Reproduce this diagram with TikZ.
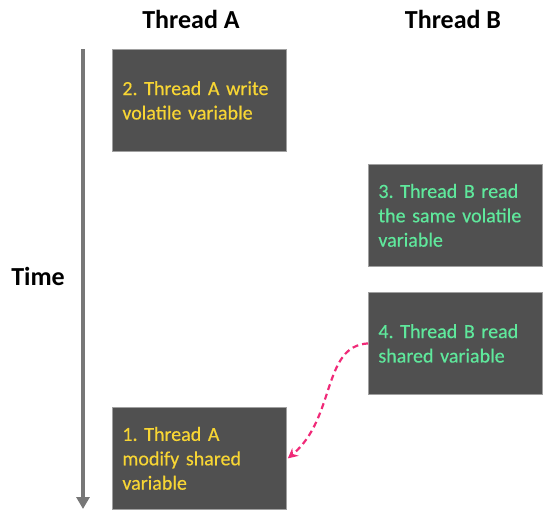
\documentclass[tikz,border=0pt]{standalone}
\usepackage{fontspec}
\setmainfont{Carlito}
\newfontfamily\boxfont[FakeBold=0.4]{Carlito}
\usetikzlibrary{arrows.meta}
\definecolor{boxfill}{HTML}{505050}
\definecolor{boxline}{HTML}{A0A0A0}
\definecolor{ayellow}{HTML}{F7D534}
\definecolor{bgreen}{HTML}{5FE89C}
\definecolor{timegray}{HTML}{777777}
\definecolor{linkpink}{HTML}{F02A78}
\tikzset{
  stepbox/.style={draw=boxline, line width=0.8pt, fill=boxfill, minimum width=174pt, minimum height=102pt,
    text width=154pt, inner xsep=10pt, align=left, font=\boxfont\fontsize{20}{24.4}\selectfont, anchor=north west},
  texta/.style={text=ayellow},
  textb/.style={text=bgreen},
  title/.style={font=\fontsize{26}{30}\selectfont\bfseries}
}
\frenchspacing
\begin{document}
\frenchspacing
\begin{tikzpicture}[x=1pt,y=-1pt]
\useasboundingbox (0,0) rectangle (554,525);
\node[title] (ta) at (191,19) {Thread A};
\node[title] (tb) at (453,19) {Thread B};
\node[title] (time) at (38,276) {Time};
\coordinate (tstart) at (83,49);
\coordinate (tend) at (83,509);
\draw[timegray, line width=4pt, -{Triangle[width=13pt,length=12pt]}] (tstart) -- (tend);
\node[stepbox, texta] (s2) at (112,49) {2. Thread A write\\volatile variable};
\node[stepbox, textb] (s3) at (368,164) {3. Thread B read\\the same volatile\\variable};
\node[stepbox, textb] (s4) at (368,292) {4. Thread B read\\shared variable};
\node[stepbox, texta] (s1) at (112,407) {1. Thread A\\modify shared\\variable};
\draw[linkpink, line width=2.2pt, dash pattern=on 6pt off 4pt, -{Stealth[length=10pt,width=10pt]}]
  (s4.west) .. controls (322,346) and (336,418) .. ([xshift=1pt]s1.east);
\end{tikzpicture}
\end{document}
